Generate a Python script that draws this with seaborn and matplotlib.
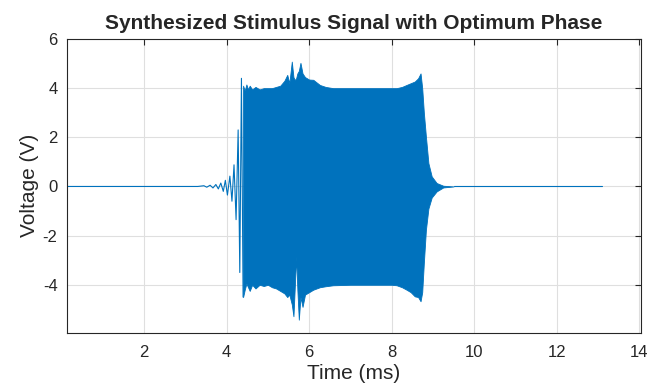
import numpy as np
import pandas as pd
import matplotlib
matplotlib.use("Agg")
import matplotlib.pyplot as plt
import seaborn as sns

# quiet lead-in and onset ripples (ms, V)
onset_t = [0.14, 3.30, 3.45, 3.52, 3.60, 3.67, 3.74, 3.80, 3.86, 3.92, 3.97, 4.02,
           4.08, 4.13, 4.18, 4.23, 4.28, 4.32, 4.36, 4.40]
onset_v = [0.0, 0.0, 0.03, -0.03, 0.05, -0.06, 0.08, -0.10, 0.14, -0.20, 0.25, -0.35,
           0.42, -0.60, 0.88, -1.35, 2.30, -3.50, 4.40, -4.50]

# dense burst, read as upper / lower envelope
burst_t = [4.40, 4.44, 4.48, 4.52, 4.56, 4.62, 4.70, 4.80, 4.90, 5.00, 5.10, 5.20,
           5.30, 5.40, 5.47, 5.52, 5.58, 5.62, 5.655, 5.685, 5.715, 5.75, 5.79, 5.84,
           5.90, 6.00, 6.10, 6.26, 6.40, 6.58, 7.00, 7.50, 8.00, 8.12, 8.25, 8.36,
           8.46, 8.56, 8.64, 8.70, 8.74, 8.78, 8.83, 8.89, 8.97, 9.09, 9.25, 9.50]
burst_upper = [4.10, 3.90, 4.15, 3.95, 4.10, 3.95, 4.05, 3.95, 4.00, 4.00, 4.00, 4.05,
               4.10, 4.30, 4.54, 4.20, 5.08, 4.45, 4.33, 4.40, 4.60, 4.70, 5.03, 4.60,
               4.45, 4.35, 4.34, 4.13, 4.05, 4.00, 4.00, 4.00, 4.00, 4.00, 4.05, 4.13,
               4.20, 4.27, 4.40, 4.60, 4.00, 3.00, 2.03, 0.95, 0.41, 0.14, 0.03, 0.00]
burst_lower = [-4.50, -4.20, -3.95, -4.10, -4.25, -4.00, -4.15, -4.00, -4.05, -4.00, -4.10, -4.15,
               -4.25, -4.35, -4.50, -4.40, -4.80, -5.28, -4.00, -2.85, -4.20, -5.42, -4.50, -4.90,
               -4.40, -4.30, -4.20, -4.10, -4.06, -4.02, -4.00, -4.00, -4.00, -4.02, -4.10, -4.20,
               -4.30, -4.47, -4.50, -4.67, -4.30, -3.10, -1.76, -0.90, -0.45, -0.20, -0.04, 0.00]

# settled tail
tail_t = [9.50, 13.10]
tail_v = [0.0, 0.0]

blue = "#0072BD"
ink = "#262626"


def main():
    sns.set_style("white")
    plt.rcParams["font.family"] = ["Liberation Sans", "DejaVu Sans"]
    plt.rcParams["axes.unicode_minus"] = False

    fig = plt.figure(figsize=(6.52, 3.88), dpi=100)
    ax = fig.add_axes([0.1032, 0.1425, 0.8792, 0.757])

    onset = pd.DataFrame({"t": onset_t, "v": onset_v})
    tail = pd.DataFrame({"t": tail_t, "v": tail_v})
    burst = pd.DataFrame({"t": burst_t, "up": burst_upper, "lo": burst_lower})

    ax.fill_between(burst["t"], burst["lo"], burst["up"], color=blue, lw=0.6)
    sns.lineplot(data=onset, x="t", y="v", sort=False, color=blue, lw=0.8, ax=ax)
    sns.lineplot(data=tail, x="t", y="v", sort=False, color=blue, lw=0.8, ax=ax)

    ax.set_xlim(0.14, 14.03)
    ax.set_ylim(-5.95, 6)
    ax.set_xticks(np.arange(2, 15, 2))
    ax.set_yticks(np.arange(-4, 7, 2))

    ax.grid(True, color="#dfdfdf", lw=0.8)
    ax.set_axisbelow(True)
    for s in ax.spines.values():
        s.set_color(ink)
        s.set_linewidth(0.8)
    ax.tick_params(direction="in", length=4, width=0.8, color=ink, labelcolor=ink,
                   labelsize=12, top=True, right=True)
    ax.tick_params(axis="x", pad=9)
    ax.tick_params(axis="y", pad=7)

    ax.set_title("Synthesized Stimulus Signal with Optimum Phase", fontsize=15,
                 fontweight="bold", pad=7)
    ax.set_xlabel("Time (ms)", fontsize=15, color=ink, labelpad=3)
    ax.set_ylabel("Voltage (V)", fontsize=15, color=ink, labelpad=3)

    plt.savefig("out.png", dpi=100)


if __name__ == "__main__":
    main()
